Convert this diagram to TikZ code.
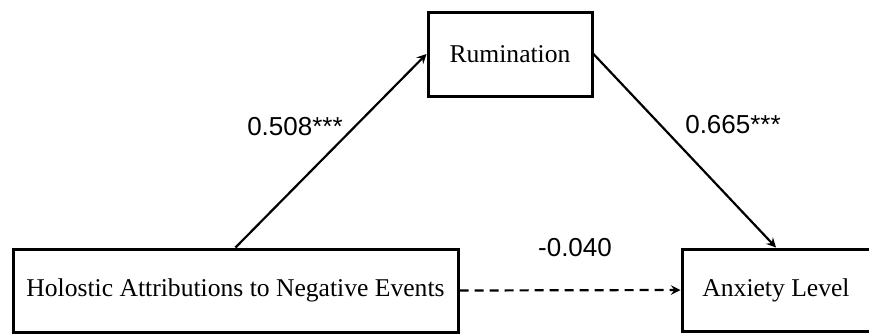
\documentclass[tikz,border=0pt]{standalone}
\usepackage{fontspec}
\setmainfont{Liberation Serif}
\newfontfamily\coeffont{Liberation Sans}

\begin{document}
\begin{tikzpicture}[
    x=0.5pt, y=-0.5pt,
    var/.style={rectangle, draw, line width=1.5pt, align=center, inner sep=0pt, font=\fontsize{12.8}{15}\selectfont},
    coef/.style={font=\coeffont\fontsize{13}{15}\selectfont},
    arrow/.style={->, >=stealth, line width=1.1pt}
  ]
    \useasboundingbox (0,0) rectangle (869,333);

    % Variables
    \node[var, minimum width=222.5pt, minimum height=41.5pt] (holistic) at (235.5,290.5) {Holostic Attributions to Negative Events};
    \node[var, minimum width=82pt, minimum height=42pt] (rumination) at (510,54) {Rumination};
    \node[var, minimum width=94pt, minimum height=41pt] (anxiety) at (776,290) {Anxiety Level};

    % Paths
    \draw[arrow] (holistic.north) -- (rumination.west);
    \draw[arrow] (rumination.east) -- (anxiety.north);
    \draw[arrow, dash pattern=on 4.5pt off 3pt] (holistic.east) -- (anxiety.west);

    % Coefficients
    \node[coef] (a) at (295,127) {0.508***};
    \node[coef] (b) at (733,125) {0.665***};
    \node[coef] (c) at (575,248) {-0.040};

  \end{tikzpicture}
\end{document}
